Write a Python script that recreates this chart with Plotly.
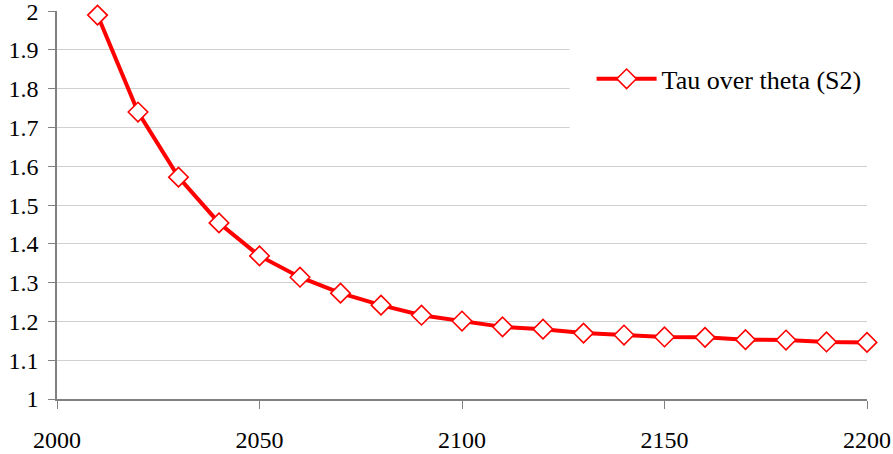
import plotly.graph_objects as go

years = [2010, 2020, 2030, 2040, 2050, 2060, 2070, 2080, 2090, 2100,
         2110, 2120, 2130, 2140, 2150, 2160, 2170, 2180, 2190, 2200]
tau_over_theta = [1.99, 1.74, 1.572, 1.454, 1.369, 1.314, 1.273, 1.242, 1.216, 1.201,
                  1.186, 1.180, 1.170, 1.165, 1.160, 1.159, 1.153, 1.152, 1.147, 1.146]
series_name = "Tau over theta (S2)"
y_tick_vals = [1.0, 1.1, 1.2, 1.3, 1.4, 1.5, 1.6, 1.7, 1.8, 1.9, 2.0]
y_tick_text = ["1", "1.1", "1.2", "1.3", "1.4", "1.5", "1.6", "1.7", "1.8", "1.9", "2"]
x_tick_vals = [2000, 2050, 2100, 2150, 2200]

FONT = "Liberation Serif, DejaVu Serif, serif"
TICKFONT = dict(family=FONT, size=24, color="black")

fig = go.Figure()
fig.add_trace(go.Scatter(
    x=years, y=tau_over_theta, name=series_name,
    mode="lines+markers",
    line=dict(color="#ff0000", width=4),
    marker=dict(symbol="diamond", size=15, color="white",
                line=dict(color="#ff0000", width=1.6)),
    cliponaxis=False,
))

# white legend panel hiding the gridlines behind the legend
fig.add_shape(type="rect", xref="paper", yref="paper",
              x0=0.633, x1=1.0, y0=0.66, y1=0.94,
              fillcolor="white", line=dict(width=0), layer="above")

fig.update_layout(
    width=893, height=454,
    margin=dict(l=57, r=26, t=11, b=55, autoexpand=False),
    paper_bgcolor="white", plot_bgcolor="white",
    font=dict(family=FONT, size=24, color="black"),
    showlegend=True,
    legend=dict(x=0.66, y=0.825, xanchor="left", yanchor="middle",
                bgcolor="rgba(0,0,0,0)", borderwidth=0,
                font=dict(family=FONT, size=26, color="black"),
                itemwidth=60, tracegroupgap=0),
    xaxis=dict(range=[2000, 2200], tickvals=x_tick_vals, automargin=False,
               showgrid=False, zeroline=False, tickfont=TICKFONT,
               showline=True, linecolor="#808080", linewidth=1.5,
               ticks="outside", ticklen=8, tickcolor="#808080", tickwidth=1,
               ticklabelstandoff=10, ticklabeloverflow="allow"),
    yaxis=dict(range=[1, 2.0005], tickvals=y_tick_vals, ticktext=y_tick_text, automargin=False,
               showgrid=True, gridcolor="#d0d0d0", gridwidth=1,
               zeroline=False, tickfont=TICKFONT,
               showline=True, linecolor="#808080", linewidth=1.5,
               ticks="outside", ticklen=7, tickcolor="#808080", tickwidth=1,
               ticklabelstandoff=5, ticklabeloverflow="allow"),
)

fig.write_html("out.html", config={"displayModeBar": False},
               post_script="document.body.style.margin='0';document.body.style.padding='0';")
